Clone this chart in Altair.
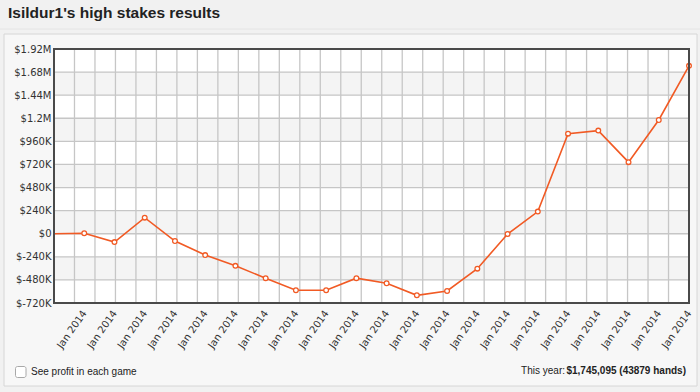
import altair as alt
import pandas as pd

# ---- data ----
point_index = list(range(22))
cumulative_profit = [0, 5000, -87000, 167000, -76000, -222000, -334000, -462000,
                     -587000, -587000, -462000, -514000, -640000, -595000, -363000,
                     -3000, 230000, 1040000, 1072000, 744000, 1182000, 1745095]
x_tick_values = list(range(1, 22))
x_tick_labels = ["Jan 2014"] * 21
y_tick_values = [-720000, -480000, -240000, 0, 240000, 480000, 720000, 960000,
                 1200000, 1440000, 1680000, 1920000]
y_tick_labels = ["$-720K", "$-480K", "$-240K", "$0", "$240K", "$480K", "$720K",
                 "$960K", "$1.2M", "$1.44M", "$1.68M", "$1.92M"]
title_text = "Isildur1's high stakes results"
checkbox_text = "See profit in each game"
year_label = "This year:"
year_value = "$1,745,095 (43879 hands)"

X_DOMAIN = [0, 21]
Y_DOMAIN = [-720000, 1920000]
N_VGRID = 31
W, H = 635, 254

df = pd.DataFrame({"idx": point_index, "profit": cumulative_profit})
bands = pd.DataFrame({
    "lo": y_tick_values[:-1],
    "hi": y_tick_values[1:],
    "shade": ["w" if i % 2 == 0 else "g" for i in range(len(y_tick_values) - 1)],
})
vgrid = pd.DataFrame({"gx": [X_DOMAIN[1] * k / N_VGRID for k in range(1, N_VGRID)]})
hgrid = pd.DataFrame({"gy": y_tick_values[1:-1]})

xscale = alt.Scale(domain=X_DOMAIN, nice=False, zero=False)
yscale = alt.Scale(domain=Y_DOMAIN, nice=False, zero=False)

x_expr = "[" + ",".join("'%s'" % s for s in x_tick_labels) + "][datum.value - 1]"
y_expr = ("[" + ",".join("'%s'" % s for s in y_tick_labels) + "][indexof(["
          + ",".join(str(v) for v in y_tick_values) + "], datum.value)]")

LABEL_FONT = "DejaVu Sans"
TEXT_FONT = "Liberation Sans"
ORANGE = "#f15a24"

xaxis = alt.Axis(values=x_tick_values, labelExpr=x_expr, grid=False, ticks=False,
                 domain=False, labelAngle=-55, labelAlign="right",
                 labelBaseline="middle", labelPadding=8, labelFont=LABEL_FONT,
                 labelFontSize=10, labelColor="#333333", labelOverlap=False, title=None,
                 zindex=2)
yaxis = alt.Axis(values=y_tick_values, labelExpr=y_expr, grid=False, ticks=False,
                 domain=False, labelPadding=3, labelFont=LABEL_FONT,
                 labelFontSize=10, labelColor="#333333", labelOverlap=False, title=None,
                 zindex=2)

one = pd.DataFrame({"a": [0]})

box = alt.Chart(one).mark_rect(fill="#f7f7f7", stroke="#d6d6d6", strokeWidth=1).encode(
    x=alt.value(-50), x2=alt.value(643), y=alt.value(-15), y2=alt.value(337))
sep = alt.Chart(one).mark_rule(color="#e4e4e4", strokeWidth=1).encode(
    x=alt.value(-54), x2=alt.value(646), y=alt.value(-20))
title = alt.Chart(pd.DataFrame({"t": [title_text]})).mark_text(
    align="left", baseline="alphabetic", font=TEXT_FONT, fontSize=15.5,
    fontWeight="bold", color="#222222").encode(
    x=alt.value(-46), y=alt.value(-31), text="t:N")

band_layer = alt.Chart(bands).mark_rect().encode(
    x=alt.value(0), x2=alt.value("width"),
    y=alt.Y("lo:Q", scale=yscale, axis=yaxis), y2="hi:Q",
    color=alt.Color("shade:N", scale=alt.Scale(domain=["w", "g"], range=["#ffffff", "#f4f4f4"]),
                    legend=None))
vgrid_layer = alt.Chart(vgrid).mark_rule(color="#c6c6c6", strokeWidth=1.3).encode(
    x=alt.X("gx:Q", scale=xscale, axis=xaxis))
hgrid_layer = alt.Chart(hgrid).mark_rule(color="#c6c6c6", strokeWidth=1.3).encode(
    y=alt.Y("gy:Q", scale=yscale, axis=yaxis))

base = alt.Chart(df).encode(
    x=alt.X("idx:Q", scale=xscale, axis=xaxis),
    y=alt.Y("profit:Q", scale=yscale, axis=yaxis),
)
line = base.mark_line(color=ORANGE, strokeWidth=1.6)
points = base.transform_filter("datum.idx > 0").mark_point(
    shape="circle", filled=True, fill="white", stroke=ORANGE, strokeWidth=1.3,
    size=22, opacity=1)

frame = alt.Chart(one).mark_rect(fillOpacity=0, stroke="#4a4a4a", strokeWidth=2).encode(
    x=alt.value(0), x2=alt.value("width"), y=alt.value(0), y2=alt.value("height"))

checkbox = alt.Chart(one).mark_rect(fill="#ffffff", stroke="#a8a8a8", strokeWidth=1,
                                    cornerRadius=2).encode(
    x=alt.value(-38.5), x2=alt.value(-28), y=alt.value(317.5), y2=alt.value(328.5))
cb_text = alt.Chart(pd.DataFrame({"t": [checkbox_text]})).mark_text(
    align="left", baseline="middle", font=TEXT_FONT, fontSize=10, color="#222222").encode(
    x=alt.value(-23), y=alt.value(322.5), text="t:N")
yr_label = alt.Chart(pd.DataFrame({"t": [year_label]})).mark_text(
    align="right", baseline="middle", font=TEXT_FONT, fontSize=10, color="#222222").encode(
    x=alt.value(511), y=alt.value(321.5), text="t:N")
yr_value = alt.Chart(pd.DataFrame({"t": [year_value]})).mark_text(
    align="right", baseline="middle", font=TEXT_FONT, fontSize=10, fontWeight="bold",
    color="#222222").encode(
    x=alt.value(632), y=alt.value(321.5), text="t:N")

chart = alt.layer(
    box, sep, title, band_layer, vgrid_layer, hgrid_layer, line, points, frame,
    checkbox, cb_text, yr_label, yr_value
).properties(
    width=W, height=H,
    autosize=alt.AutoSizeParams(type="none"),
    padding={"left": 54, "top": 49, "right": 11, "bottom": 89},
    background="#f1f1f1",
).configure_view(stroke=None)

chart.save("out.html", embed_options={"renderer": "svg", "actions": False})
